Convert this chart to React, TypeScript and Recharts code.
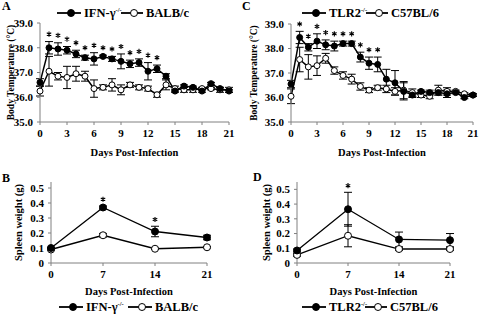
import { LineChart, Line, XAxis, YAxis, ErrorBar, Label } from "recharts";

const FONT = '"Liberation Serif", "Times New Roman", serif';
const AXIS = "#808080";

// Panel A / C: body temperature, days 0-21
const TEMP_DAYS = [0, 1, 2, 3, 4, 5, 6, 7, 8, 9, 10, 11, 12, 13, 14, 15, 16, 17, 18, 19, 20, 21];
const TEMP_TICKS_X = [0, 3, 6, 9, 12, 15, 18, 21];
const TEMP_TICKS_Y = [35, 36, 37, 38, 39];

const IFN_TEMP = [36.6, 38.0, 37.95, 37.9, 37.75, 37.6, 37.55, 37.65, 37.55, 37.45, 37.35, 37.4, 37.05, 37.15, 36.85, 36.25, 36.45, 36.4, 36.25, 36.55, 36.35, 36.25];
const IFN_TEMP_ERR = [0.15, 0.25, 0.25, 0.15, 0.15, 0.1, 0.25, 0.05, 0.1, 0.3, 0.15, 0.15, 0.35, 0.15, 0.1, 0.05, 0.05, 0.05, 0.05, 0.05, 0.05, 0.05];
const BALB_TEMP = [36.25, 37.05, 36.85, 36.8, 36.95, 36.85, 36.35, 36.4, 36.5, 36.3, 36.5, 36.4, 36.35, 36.1, 36.5, 36.35, 36.3, 36.3, 36.35, 36.35, 36.3, 36.3];
const BALB_TEMP_ERR = [0.2, 0.6, 0.15, 0.45, 0.3, 0.2, 0.35, 0.1, 0.25, 0.2, 0.1, 0.1, 0.1, 0.1, 0.2, 0.1, 0.1, 0.1, 0.05, 0.05, 0.1, 0.1];
const IFN_TEMP_SIG = [1, 2, 3, 4, 5, 6, 7, 8, 9, 10, 11, 12, 13];

const TLR2_TEMP = [36.55, 38.45, 38.05, 38.3, 38.15, 38.1, 38.2, 38.2, 37.65, 37.4, 37.35, 36.75, 36.6, 36.25, 36.1, 36.25, 36.2, 36.2, 36.15, 36.2, 36.0, 36.1];
const TLR2_TEMP_ERR = [0.15, 0.25, 0.15, 0.3, 0.2, 0.2, 0.1, 0.1, 0.2, 0.25, 0.3, 0.4, 0.5, 0.35, 0.1, 0.05, 0.1, 0.1, 0.15, 0.05, 0.05, 0.05];
const C57_TEMP = [36.05, 37.55, 37.25, 37.3, 37.6, 37.1, 36.9, 36.75, 36.45, 36.3, 36.4, 36.35, 36.25, 36.3, 36.2, 36.1, 36.05, 36.3, 36.25, 36.25, 36.15, 36.1];
const C57_TEMP_ERR = [0.3, 0.5, 0.5, 0.4, 0.2, 0.15, 0.15, 0.2, 0.15, 0.1, 0.1, 0.15, 0.15, 0.35, 0.15, 0.1, 0.1, 0.2, 0.15, 0.05, 0.05, 0.05];
const TLR2_TEMP_SIG = [1, 2, 3, 4, 5, 6, 7, 8, 9, 10];

// Panel B / D: spleen weight
const SPLEEN_DAYS = [0, 7, 14, 21];
const SPLEEN_TICKS_Y = [0, 0.1, 0.2, 0.3, 0.4, 0.5];

const IFN_SPLEEN = [0.1, 0.37, 0.21, 0.17];
const IFN_SPLEEN_ERR = [0.005, 0.01, 0.035, 0.015];
const BALB_SPLEEN = [0.09, 0.185, 0.095, 0.105];
const BALB_SPLEEN_ERR = [0.005, 0.012, 0.005, 0.005];
const IFN_SPLEEN_SIG = [7, 14];

const TLR2_SPLEEN = [0.085, 0.365, 0.16, 0.155];
const TLR2_SPLEEN_ERR = [0.01, 0.115, 0.05, 0.045];
const C57_SPLEEN = [0.055, 0.185, 0.095, 0.095];
const C57_SPLEEN_ERR = [0.01, 0.075, 0.01, 0.01];
const TLR2_SPLEEN_SIG = [7];

function buildRows(days: number[], ko: number[], koErr: number[], wt: number[], wtErr: number[], sig: number[], starGap: number) {
  return days.map((d, i) => ({
    day: d,
    ko: ko[i],
    koErr: koErr[i],
    wt: wt[i],
    wtErr: wtErr[i],
    // asterisk sits just above the upper error cap
    star: sig.includes(d) ? Math.round((ko[i] + koErr[i] + starGap) * 1000) / 1000 : null,
  }));
}

const rowsA = buildRows(TEMP_DAYS, IFN_TEMP, IFN_TEMP_ERR, BALB_TEMP, BALB_TEMP_ERR, IFN_TEMP_SIG, 0.3);
const rowsC = buildRows(TEMP_DAYS, TLR2_TEMP, TLR2_TEMP_ERR, C57_TEMP, C57_TEMP_ERR, TLR2_TEMP_SIG, 0.3);
const rowsB = buildRows(SPLEEN_DAYS, IFN_SPLEEN, IFN_SPLEEN_ERR, BALB_SPLEEN, BALB_SPLEEN_ERR, IFN_SPLEEN_SIG, 0.045);
const rowsD = buildRows(SPLEEN_DAYS, TLR2_SPLEEN, TLR2_SPLEEN_ERR, C57_SPLEEN, C57_SPLEEN_ERR, TLR2_SPLEEN_SIG, 0.045);

const tickStyle = { fontSize: 11, fontFamily: FONT, fontWeight: 700, fill: "#000" };

// significance asterisk, drawn as a small six-spoke glyph
const starDot = (props: any) => {
  const { cx, cy, index, value } = props;
  if (value == null || cy == null) return <g key={`s${index}`} />;
  const r = 2.6;
  const dx = r * 0.866;
  const dy = r * 0.5;
  return (
    <path key={`s${index}`} stroke="#000" strokeWidth={1.1} fill="none"
      d={`M${cx},${cy - r}L${cx},${cy + r}M${cx - dx},${cy - dy}L${cx + dx},${cy + dy}M${cx - dx},${cy + dy}L${cx + dx},${cy - dy}`} />
  );
};

const yTitle = (text: string, x: number, size: number) => (props: any) => {
  const vb = props.viewBox || { y: 0, height: 0 };
  const cy = vb.y + vb.height / 2;
  return (
    <text x={x} y={cy} transform={`rotate(-90 ${x} ${cy})`} textAnchor="middle" dominantBaseline="central"
      fontSize={size} fontWeight={700} fontFamily={FONT} fill="#000">
      {text}
    </text>
  );
};

type PanelProps = {
  rows: any[];
  width: number;
  height: number;
  margin: { top: number; right: number; bottom: number; left: number };
  yWidth: number;
  xHeight: number;
  xDomain: [number, number];
  xTicks: number[];
  yDomain: [number, number];
  yTicks: number[];
  yFormat: (v: number) => string;
  yLabel: string;
  yLabelX: number;
  yLabelSize: number;
  dotR: number;
  lineW: number;
};

function Panel(p: PanelProps) {
  return (
    <LineChart width={p.width} height={p.height} data={p.rows} margin={p.margin}>
      <XAxis dataKey="day" type="number" domain={p.xDomain} ticks={p.xTicks} interval={0} height={p.xHeight}
        stroke={AXIS} tickSize={3} tickMargin={4} tick={tickStyle}>
        <Label value="Days Post-Infection" position="insideBottom" offset={4}
          style={{ fontSize: 10.5, fontWeight: 700, fontFamily: FONT, fill: "#000" }} />
      </XAxis>
      <YAxis type="number" domain={p.yDomain} ticks={p.yTicks} interval={0} width={p.yWidth}
        stroke={AXIS} tickSize={3} tickMargin={4} tick={tickStyle} tickFormatter={p.yFormat}>
        <Label content={yTitle(p.yLabel, p.yLabelX, p.yLabelSize)} />
      </YAxis>
      <Line dataKey="wt" stroke="#000" strokeWidth={p.lineW} isAnimationActive={false} activeDot={false}
        dot={{ r: p.dotR, fill: "#fff", stroke: "#000", strokeWidth: 1 }}>
        <ErrorBar dataKey="wtErr" width={4} stroke="#000" strokeWidth={1} direction="y" />
      </Line>
      <Line dataKey="ko" stroke="#000" strokeWidth={p.lineW} isAnimationActive={false} activeDot={false}
        dot={{ r: p.dotR, fill: "#000", stroke: "#000", strokeWidth: 1 }}>
        <ErrorBar dataKey="koErr" width={4} stroke="#000" strokeWidth={1} direction="y" />
      </Line>
      <Line dataKey="star" stroke="none" isAnimationActive={false} activeDot={false} dot={starDot} legendType="none" />
    </LineChart>
  );
}

function LegendItem({ x, y, filled, text, sup, lineLen, r }: { x: number; y: number; filled: boolean; text: string; sup?: string; lineLen: number; r: number }) {
  return (
    <g>
      <line x1={x} y1={y} x2={x + lineLen} y2={y} stroke="#000" strokeWidth={1.8} />
      <circle cx={x + lineLen / 2 + 2} cy={y} r={r} fill={filled ? "#000" : "#fff"} stroke="#000" strokeWidth={1} />
      <text x={x + lineLen + 3} y={y + 4} fontSize={12.5} fontWeight={700} fontFamily={FONT} fill="#000">
        {text}
        {sup && <tspan dy={-5} fontSize={6.5}>{sup}</tspan>}
      </text>
    </g>
  );
}

const fmt1 = (v: number) => v.toFixed(1);
const fmtW = (v: number) => (v === 0 ? "0" : String(v));

export default function App() {
  return (
    <div style={{ position: "absolute", left: 0, top: 0, width: 480, height: 315, background: "#fff", fontFamily: FONT }}>
      <div style={{ position: "absolute", left: 0, top: 0 }}>
        <Panel rows={rowsA} width={240} height={160} margin={{ top: 23, right: 11, bottom: 0, left: 0 }}
          yWidth={40} xHeight={38} xDomain={[0, 21]} xTicks={TEMP_TICKS_X} yDomain={[35, 39]} yTicks={TEMP_TICKS_Y}
          yFormat={fmt1} yLabel="Body Temperature (°C)" yLabelX={10.5} yLabelSize={9.5} dotR={3} lineW={1.5} />
      </div>
      <div style={{ position: "absolute", left: 240, top: 0 }}>
        <Panel rows={rowsC} width={240} height={160} margin={{ top: 24, right: 7, bottom: 0, left: 0 }}
          yWidth={51} xHeight={38} xDomain={[0, 21]} xTicks={TEMP_TICKS_X} yDomain={[35, 39]} yTicks={TEMP_TICKS_Y}
          yFormat={fmt1} yLabel="Body Temperature (°C)" yLabelX={14} yLabelSize={9.5} dotR={3} lineW={1.5} />
      </div>
      <div style={{ position: "absolute", left: 0, top: 160 }}>
        <Panel rows={rowsB} width={240} height={155} margin={{ top: 22, right: 33, bottom: 16, left: 0 }}
          yWidth={51} xHeight={36} xDomain={[0, 21]} xTicks={SPLEEN_DAYS} yDomain={[0, 0.54]} yTicks={SPLEEN_TICKS_Y}
          yFormat={fmtW} yLabel="Spleen weight (g)" yLabelX={18} yLabelSize={10.5} dotR={3.5} lineW={1.3} />
      </div>
      <div style={{ position: "absolute", left: 240, top: 160 }}>
        <Panel rows={rowsD} width={240} height={155} margin={{ top: 22, right: 30, bottom: 16, left: 6 }}
          yWidth={51} xHeight={36} xDomain={[0, 21]} xTicks={SPLEEN_DAYS} yDomain={[0, 0.55]} yTicks={SPLEEN_TICKS_Y}
          yFormat={fmtW} yLabel="Spleen weight (g)" yLabelX={26.5} yLabelSize={10.5} dotR={3.5} lineW={1.3} />
      </div>
      <svg width={480} height={315} style={{ position: "absolute", left: 0, top: 0, pointerEvents: "none" }}>
        <g fontFamily={FONT} fontWeight={700} fontSize={12} fill="#000">
          <text x={2} y={10}>A</text>
          <text x={242} y={10}>C</text>
          <text x={2} y={182}>B</text>
          <text x={253} y={181}>D</text>
        </g>
        <LegendItem x={57} y={13} filled text="IFN-γ" sup="-/-" lineLen={24} r={3.5} />
        <LegendItem x={121} y={13} filled={false} text="BALB/c" lineLen={22} r={3.5} />
        <LegendItem x={302} y={13} filled text="TLR2" sup="-/-" lineLen={24} r={3.5} />
        <LegendItem x={366} y={13} filled={false} text="C57BL/6" lineLen={22} r={3.5} />
        <LegendItem x={59} y={307} filled text="IFN-γ" sup="-/-" lineLen={24} r={3.5} />
        <LegendItem x={128} y={307} filled={false} text="BALB/c" lineLen={24} r={3.5} />
        <LegendItem x={302} y={307} filled text="TLR2" sup="-/-" lineLen={24} r={3.5} />
        <LegendItem x={365} y={307} filled={false} text="C57BL/6" lineLen={22} r={3.5} />
      </svg>
    </div>
  );
}
